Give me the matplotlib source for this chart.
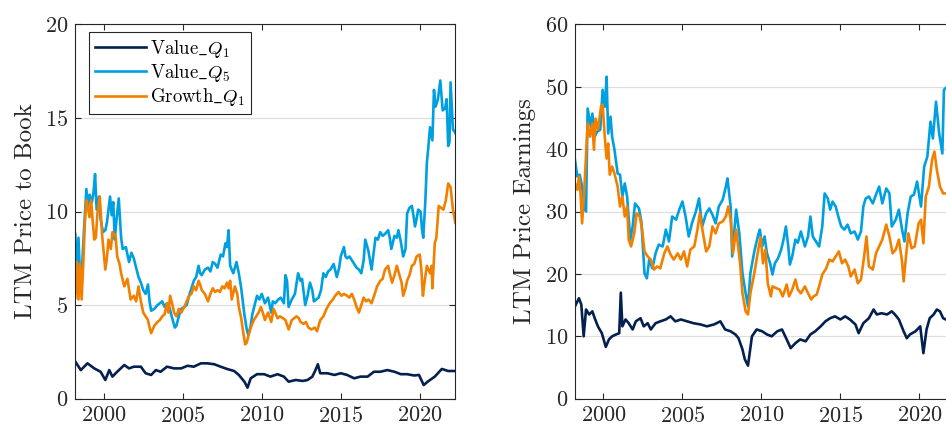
import matplotlib
matplotlib.use("Agg")
import matplotlib.pyplot as plt

plt.rcParams["font.family"] = "serif"
plt.rcParams["font.serif"] = ["cmr10"]
plt.rcParams["mathtext.fontset"] = "cm"
plt.rcParams["axes.formatter.use_mathtext"] = True

# (year, value) observations for each series
pb_value_q1 = [
    (1998.2, 1.98), (1998.55, 1.53), (1998.97, 1.89), (1999.4, 1.62), (1999.8, 1.44),
    (2000.1, 1.00), (2000.35, 1.53), (2000.55, 1.18), (2000.85, 1.44), (2001.3, 1.80),
    (2001.6, 1.62), (2001.9, 1.71), (2002.35, 1.71), (2002.65, 1.36), (2003.0, 1.27),
    (2003.3, 1.53), (2003.6, 1.44), (2004.0, 1.71), (2004.45, 1.62), (2004.9, 1.62),
    (2005.3, 1.76), (2005.7, 1.71), (2006.15, 1.89), (2006.55, 1.89), (2007.0, 1.84),
    (2007.4, 1.71), (2007.8, 1.59), (2008.25, 1.48), (2008.55, 1.27), (2008.9, 0.91),
    (2009.1, 0.59), (2009.3, 1.09), (2009.7, 1.31), (2010.15, 1.31), (2010.55, 1.18),
    (2011.0, 1.31), (2011.4, 1.18), (2011.7, 0.91), (2012.15, 1.00), (2012.6, 0.95),
    (2012.9, 1.00), (2013.2, 1.18), (2013.4, 1.53), (2013.55, 1.84), (2013.7, 1.36),
    (2014.15, 1.36), (2014.6, 1.27), (2015.0, 1.36), (2015.4, 1.27), (2015.85, 1.09),
    (2016.25, 1.18), (2016.7, 1.18), (2017.1, 1.44), (2017.5, 1.44), (2017.95, 1.53),
    (2018.4, 1.44), (2018.8, 1.31), (2019.2, 1.31), (2019.65, 1.24), (2019.95, 1.27),
    (2020.25, 0.73), (2020.5, 0.91), (2020.95, 1.18), (2021.4, 1.59), (2021.8, 1.48),
    (2022.25, 1.48),
]

pb_value_q5 = [
    (1998.2, 8.8), (1998.3, 6.5), (1998.4, 8.6), (1998.5, 6.5), (1998.6, 6.6), (1998.75, 9.0),
    (1998.9, 11.2), (1999.0, 10.2), (1999.1, 10.9), (1999.25, 10.5), (1999.35, 11.0),
    (1999.45, 12.0), (1999.55, 10.1), (1999.7, 10.8), (1999.8, 9.6), (1999.95, 8.9),
    (2000.1, 9.0), (2000.2, 9.4), (2000.4, 10.8), (2000.5, 9.8), (2000.6, 10.5), (2000.7, 8.5),
    (2000.8, 9.5), (2000.95, 10.7), (2001.1, 8.6), (2001.2, 8.0), (2001.4, 8.1), (2001.6, 7.3),
    (2001.75, 7.8), (2001.9, 7.5), (2002.05, 7.0), (2002.2, 6.5), (2002.35, 6.2), (2002.5, 5.8),
    (2002.65, 5.6), (2002.8, 6.1), (2002.9, 5.2), (2003.0, 4.7), (2003.2, 4.8), (2003.4, 5.0),
    (2003.55, 5.1), (2003.7, 5.2), (2003.85, 4.9), (2004.0, 5.1), (2004.15, 4.9), (2004.3, 4.4),
    (2004.5, 3.8), (2004.6, 3.9), (2004.75, 4.4), (2004.9, 4.8), (2005.1, 4.9), (2005.25, 5.0),
    (2005.4, 5.5), (2005.55, 5.9), (2005.7, 6.3), (2005.85, 6.5), (2006.0, 7.1), (2006.1, 6.7),
    (2006.2, 6.6), (2006.4, 6.9), (2006.6, 7.0), (2006.75, 6.8), (2006.9, 7.3), (2007.05, 7.2),
    (2007.2, 7.0), (2007.4, 7.7), (2007.55, 7.6), (2007.7, 8.3), (2007.8, 8.1), (2007.9, 9.0),
    (2008.0, 7.1), (2008.2, 6.7), (2008.4, 7.3), (2008.55, 6.7), (2008.7, 5.9), (2008.9, 4.5),
    (2009.05, 3.7), (2009.15, 3.4), (2009.3, 3.9), (2009.4, 4.5), (2009.55, 5.0), (2009.7, 5.5),
    (2009.85, 5.3), (2010.0, 5.6), (2010.2, 5.1), (2010.4, 5.4), (2010.6, 4.6), (2010.7, 5.2),
    (2010.85, 5.1), (2011.05, 5.3), (2011.2, 5.4), (2011.4, 5.1), (2011.5, 6.6), (2011.6, 6.3),
    (2011.7, 4.9), (2011.9, 5.3), (2012.1, 5.6), (2012.3, 6.7), (2012.45, 6.3), (2012.55, 6.4),
    (2012.75, 5.0), (2012.9, 5.5), (2013.05, 6.2), (2013.2, 5.8), (2013.3, 5.2), (2013.45, 5.3),
    (2013.6, 5.4), (2013.75, 5.8), (2013.9, 6.7), (2014.05, 6.5), (2014.2, 6.8), (2014.35, 6.9),
    (2014.55, 7.2), (2014.75, 6.5), (2014.9, 7.0), (2015.0, 7.6), (2015.2, 8.1), (2015.3, 7.6),
    (2015.4, 7.5), (2015.55, 7.6), (2015.7, 7.4), (2015.85, 7.2), (2016.0, 7.0), (2016.15, 6.9),
    (2016.3, 6.7), (2016.45, 7.4), (2016.55, 8.5), (2016.75, 7.9), (2016.95, 6.9), (2017.1, 7.9),
    (2017.2, 8.6), (2017.35, 8.5), (2017.5, 8.9), (2017.65, 8.7), (2017.8, 8.8), (2018.0, 9.0),
    (2018.1, 8.6), (2018.2, 8.0), (2018.4, 8.7), (2018.55, 8.6), (2018.65, 9.0), (2018.8, 8.4),
    (2018.95, 7.6), (2019.1, 8.0), (2019.2, 9.9), (2019.35, 10.2), (2019.5, 10.3), (2019.6, 9.8),
    (2019.7, 9.2), (2019.8, 9.6), (2019.9, 10.1), (2020.05, 10.0), (2020.15, 9.0), (2020.22, 8.6),
    (2020.35, 10.5), (2020.45, 12.6), (2020.55, 13.5), (2020.65, 14.5), (2020.8, 13.8),
    (2020.9, 16.5), (2021.0, 15.6), (2021.15, 16.0), (2021.3, 17.0), (2021.45, 15.4),
    (2021.6, 15.5), (2021.7, 16.0), (2021.8, 13.5), (2021.88, 13.7), (2021.95, 16.9),
    (2022.1, 14.4), (2022.25, 14.2),
]

pb_growth_q1 = [
    (1998.2, 5.4), (1998.3, 7.3), (1998.4, 5.3), (1998.5, 7.2), (1998.6, 5.3), (1998.7, 7.1),
    (1998.8, 9.3), (1998.9, 10.6), (1999.0, 10.2), (1999.1, 9.7), (1999.2, 10.6), (1999.3, 9.5),
    (1999.4, 8.5), (1999.5, 8.6), (1999.6, 9.9), (1999.75, 10.8), (1999.9, 8.7), (2000.0, 7.8),
    (2000.1, 6.9), (2000.2, 7.5), (2000.3, 8.5), (2000.45, 8.0), (2000.55, 8.9), (2000.75, 8.7),
    (2000.85, 7.6), (2001.0, 7.2), (2001.1, 6.7), (2001.3, 6.0), (2001.5, 6.4), (2001.7, 5.3),
    (2001.9, 5.5), (2002.05, 5.2), (2002.2, 6.0), (2002.35, 5.2), (2002.5, 4.6), (2002.65, 4.4),
    (2002.8, 4.2), (2002.9, 3.8), (2003.0, 3.5), (2003.2, 3.9), (2003.4, 4.1), (2003.55, 4.2),
    (2003.7, 4.4), (2003.85, 4.5), (2004.0, 5.1), (2004.1, 4.6), (2004.2, 5.5), (2004.35, 5.0),
    (2004.45, 4.6), (2004.6, 4.4), (2004.75, 4.8), (2004.9, 4.6), (2005.1, 4.9), (2005.25, 5.2),
    (2005.4, 5.5), (2005.55, 5.6), (2005.7, 6.0), (2005.85, 5.8), (2006.0, 6.3), (2006.1, 6.1),
    (2006.2, 5.8), (2006.4, 5.6), (2006.6, 5.2), (2006.75, 5.6), (2006.9, 5.9), (2007.05, 5.7),
    (2007.2, 5.8), (2007.35, 5.7), (2007.5, 6.0), (2007.65, 5.9), (2007.8, 6.2), (2007.9, 5.9),
    (2008.0, 6.3), (2008.1, 5.3), (2008.3, 6.0), (2008.45, 5.6), (2008.55, 4.9), (2008.7, 4.3),
    (2008.8, 3.7), (2008.95, 2.9), (2009.05, 3.0), (2009.2, 3.5), (2009.35, 3.9), (2009.5, 4.2),
    (2009.65, 4.4), (2009.8, 4.6), (2009.95, 4.9), (2010.1, 4.5), (2010.2, 4.2), (2010.4, 4.6),
    (2010.6, 4.1), (2010.75, 4.8), (2010.85, 4.6), (2011.0, 4.3), (2011.15, 4.4), (2011.35, 4.3),
    (2011.5, 4.2), (2011.7, 3.7), (2011.9, 4.2), (2012.05, 4.3), (2012.2, 4.4), (2012.35, 4.3),
    (2012.45, 4.1), (2012.65, 4.0), (2012.8, 4.1), (2012.95, 3.8), (2013.15, 3.7), (2013.35, 3.8),
    (2013.5, 3.6), (2013.7, 4.2), (2013.9, 4.4), (2014.1, 4.8), (2014.3, 5.1), (2014.5, 5.3),
    (2014.65, 5.5), (2014.85, 5.7), (2015.05, 5.5), (2015.2, 5.6), (2015.4, 5.5), (2015.55, 5.4),
    (2015.7, 5.6), (2015.85, 5.3), (2016.0, 4.9), (2016.15, 4.6), (2016.3, 5.0), (2016.45, 5.4),
    (2016.6, 5.2), (2016.75, 5.3), (2016.95, 5.1), (2017.15, 5.6), (2017.3, 6.0), (2017.5, 6.3),
    (2017.65, 6.4), (2017.8, 6.9), (2018.0, 7.1), (2018.1, 6.7), (2018.25, 6.2), (2018.4, 6.6),
    (2018.55, 7.1), (2018.75, 6.5), (2018.85, 6.2), (2018.95, 5.5), (2019.1, 5.9), (2019.2, 6.3),
    (2019.35, 6.6), (2019.5, 7.1), (2019.65, 7.2), (2019.8, 7.6), (2020.0, 7.7), (2020.1, 6.9),
    (2020.2, 5.5), (2020.3, 6.2), (2020.45, 7.1), (2020.55, 6.9), (2020.65, 6.7), (2020.75, 7.1),
    (2020.8, 5.9), (2020.95, 8.3), (2021.05, 8.6), (2021.2, 10.3), (2021.35, 10.2), (2021.5, 10.1),
    (2021.65, 10.6), (2021.8, 11.5), (2021.95, 11.3), (2022.1, 10.1), (2022.25, 9.4),
]

pe_value_q1 = [
    (1998.2, 14.8), (1998.45, 16.1), (1998.6, 15.1), (1998.75, 10.0), (1998.9, 14.3),
    (1999.1, 13.5), (1999.3, 14.0), (1999.45, 12.9), (1999.65, 11.6), (1999.9, 10.5),
    (2000.15, 8.3), (2000.35, 9.5), (2000.55, 10.0), (2000.8, 10.3), (2001.0, 10.5),
    (2001.1, 17.0), (2001.2, 11.6), (2001.4, 12.7), (2001.6, 12.1), (2001.85, 11.1),
    (2002.05, 12.4), (2002.35, 12.9), (2002.55, 11.6), (2002.8, 12.1), (2003.0, 11.1),
    (2003.3, 12.1), (2003.6, 12.4), (2003.95, 12.7), (2004.25, 13.2), (2004.55, 12.4),
    (2004.9, 12.7), (2005.3, 12.4), (2005.7, 12.1), (2006.15, 11.9), (2006.55, 11.6),
    (2007.0, 11.9), (2007.4, 12.4), (2007.7, 11.1), (2008.05, 10.8), (2008.35, 10.3),
    (2008.55, 9.7), (2008.8, 7.9), (2008.95, 6.3), (2009.15, 5.3), (2009.4, 10.0),
    (2009.7, 11.1), (2010.05, 10.8), (2010.35, 10.3), (2010.65, 10.0), (2011.0, 10.8),
    (2011.3, 11.1), (2011.6, 9.5), (2011.85, 8.1), (2012.15, 8.9), (2012.45, 9.5),
    (2012.8, 9.2), (2013.1, 10.3), (2013.4, 10.8), (2013.75, 11.6), (2014.05, 12.4),
    (2014.35, 12.9), (2014.65, 13.2), (2015.0, 12.7), (2015.3, 13.2), (2015.6, 12.7),
    (2015.95, 11.9), (2016.15, 10.5), (2016.45, 12.1), (2016.8, 12.9), (2017.1, 14.3),
    (2017.3, 13.5), (2017.6, 13.7), (2017.95, 13.5), (2018.25, 14.0), (2018.45, 13.5),
    (2018.7, 12.7), (2019.0, 10.8), (2019.2, 9.7), (2019.4, 10.3), (2019.75, 10.8),
    (2020.05, 11.6), (2020.25, 7.3), (2020.45, 11.1), (2020.65, 12.9), (2020.9, 13.5),
    (2021.1, 14.3), (2021.3, 14.0), (2021.5, 12.9), (2021.67, 12.7),
]

pe_value_q5 = [
    (1998.2, 38.3), (1998.35, 35.6), (1998.5, 35.9), (1998.65, 34.0), (1998.8, 30.8),
    (1998.9, 30.0), (1999.0, 46.5), (1999.2, 43.6), (1999.3, 45.7), (1999.45, 42.0),
    (1999.6, 42.8), (1999.8, 43.1), (1999.95, 49.5), (2000.1, 46.8), (2000.2, 51.6),
    (2000.3, 42.5), (2000.45, 45.2), (2000.55, 42.0), (2000.7, 39.9), (2000.9, 36.1),
    (2001.05, 35.9), (2001.2, 32.4), (2001.35, 34.5), (2001.5, 32.4), (2001.7, 25.5),
    (2001.85, 27.6), (2002.0, 31.3), (2002.25, 30.5), (2002.4, 28.4), (2002.6, 20.1),
    (2002.75, 19.3), (2002.9, 22.3), (2003.1, 20.9), (2003.3, 23.3), (2003.5, 24.7),
    (2003.75, 24.4), (2003.95, 27.1), (2004.15, 25.2), (2004.35, 29.2), (2004.6, 28.7),
    (2004.8, 30.3), (2005.0, 31.6), (2005.2, 29.2), (2005.4, 26.0), (2005.6, 28.1),
    (2005.85, 30.0), (2006.05, 32.1), (2006.25, 27.6), (2006.5, 29.7), (2006.7, 30.5),
    (2006.9, 29.5), (2007.1, 28.1), (2007.3, 30.8), (2007.55, 31.9), (2007.75, 34.0),
    (2007.85, 35.3), (2008.05, 30.8), (2008.15, 22.8), (2008.4, 30.3), (2008.6, 26.5),
    (2008.8, 20.1), (2009.0, 16.9), (2009.15, 14.8), (2009.3, 20.1), (2009.55, 23.6),
    (2009.8, 26.3), (2009.9, 27.1), (2010.05, 24.4), (2010.2, 26.0), (2010.35, 23.3),
    (2010.55, 21.7), (2010.7, 19.9), (2010.85, 21.7), (2011.05, 22.5), (2011.25, 23.9),
    (2011.4, 25.5), (2011.55, 27.6), (2011.7, 24.4), (2011.8, 21.5), (2011.95, 22.8),
    (2012.15, 25.5), (2012.3, 25.0), (2012.5, 26.8), (2012.75, 24.4), (2012.95, 26.0),
    (2013.1, 29.2), (2013.25, 26.0), (2013.45, 25.2), (2013.65, 24.4), (2013.85, 27.6),
    (2014.0, 32.9), (2014.2, 32.1), (2014.35, 30.3), (2014.5, 31.6), (2014.7, 30.8),
    (2014.9, 28.9), (2015.05, 27.6), (2015.25, 27.1), (2015.45, 27.9), (2015.65, 26.5),
    (2015.9, 26.8), (2016.1, 25.5), (2016.3, 26.8), (2016.45, 30.8), (2016.6, 32.1),
    (2016.8, 32.4), (2017.05, 31.3), (2017.25, 32.7), (2017.45, 34.0), (2017.65, 31.3),
    (2017.9, 33.7), (2018.1, 32.9), (2018.25, 27.6), (2018.5, 28.7), (2018.7, 30.3),
    (2018.9, 27.1), (2019.05, 25.2), (2019.25, 29.7), (2019.45, 32.4), (2019.65, 32.7),
    (2019.85, 34.8), (2020.1, 30.8), (2020.3, 37.2), (2020.5, 38.8), (2020.7, 44.4),
    (2020.85, 41.7), (2021.05, 47.6), (2021.25, 42.5), (2021.45, 39.3), (2021.55, 49.5),
    (2021.67, 49.8),
]

pe_growth_q1 = [
    (1998.2, 34.5), (1998.35, 33.5), (1998.45, 35.6), (1998.55, 32.9), (1998.65, 28.1),
    (1998.8, 34.0), (1999.0, 44.1), (1999.15, 42.0), (1999.3, 44.1), (1999.4, 39.9),
    (1999.5, 44.9), (1999.65, 43.1), (1999.85, 46.8), (1999.95, 47.1), (2000.1, 41.5),
    (2000.2, 38.5), (2000.3, 40.9), (2000.4, 35.9), (2000.55, 37.2), (2000.7, 36.1),
    (2000.9, 34.0), (2001.05, 30.8), (2001.2, 32.4), (2001.35, 29.2), (2001.5, 30.8),
    (2001.6, 25.5), (2001.75, 24.4), (2001.95, 26.5), (2002.1, 29.7), (2002.3, 29.2),
    (2002.45, 27.1), (2002.6, 23.6), (2002.8, 22.8), (2003.0, 22.3), (2003.2, 20.7),
    (2003.4, 21.2), (2003.6, 20.9), (2003.85, 23.3), (2004.05, 24.4), (2004.25, 23.1),
    (2004.45, 22.3), (2004.7, 23.3), (2004.9, 22.3), (2005.1, 23.6), (2005.3, 21.2),
    (2005.5, 23.9), (2005.75, 24.4), (2005.95, 27.1), (2006.1, 29.7), (2006.25, 27.3),
    (2006.5, 23.6), (2006.7, 24.4), (2006.9, 27.6), (2007.1, 26.5), (2007.3, 28.1),
    (2007.55, 28.4), (2007.75, 29.2), (2007.9, 30.8), (2008.05, 28.7), (2008.2, 23.3),
    (2008.4, 27.1), (2008.65, 21.7), (2008.8, 16.9), (2009.0, 14.0), (2009.15, 13.5),
    (2009.3, 16.9), (2009.55, 20.1), (2009.8, 23.9), (2009.95, 25.9), (2010.1, 21.7),
    (2010.25, 23.9), (2010.4, 18.5), (2010.6, 16.4), (2010.7, 18.0), (2010.95, 17.7),
    (2011.15, 17.5), (2011.35, 16.4), (2011.6, 18.3), (2011.75, 16.4), (2011.95, 17.5),
    (2012.15, 19.1), (2012.3, 17.5), (2012.5, 16.9), (2012.75, 18.0), (2012.95, 16.9),
    (2013.15, 15.9), (2013.3, 16.4), (2013.5, 16.7), (2013.65, 18.0), (2013.85, 19.9),
    (2014.1, 20.9), (2014.3, 22.3), (2014.5, 22.0), (2014.7, 22.8), (2014.9, 23.6),
    (2015.1, 21.7), (2015.3, 22.3), (2015.5, 21.2), (2015.65, 19.6), (2015.9, 20.7),
    (2016.1, 18.5), (2016.3, 19.1), (2016.5, 22.8), (2016.65, 26.0), (2016.8, 21.2),
    (2017.05, 20.7), (2017.25, 23.3), (2017.45, 24.4), (2017.65, 25.5), (2017.9, 27.9),
    (2018.1, 26.0), (2018.3, 23.3), (2018.5, 23.9), (2018.7, 25.5), (2018.9, 22.0),
    (2019.0, 18.8), (2019.15, 22.8), (2019.3, 26.5), (2019.5, 24.1), (2019.7, 24.4),
    (2019.95, 28.1), (2020.1, 28.7), (2020.25, 24.9), (2020.4, 32.4), (2020.6, 34.0),
    (2020.8, 38.3), (2020.95, 39.6), (2021.1, 36.7), (2021.3, 34.0), (2021.5, 32.9),
    (2021.67, 32.9),
]

series_labels = [r"Value$\_Q_1$", r"Value$\_Q_5$", r"Growth$\_Q_1$"]
series_colors = ["#03204f", "#00a0e0", "#f28000"]
year_ticks = [2000, 2005, 2010, 2015, 2020]
x_range = (1998.2, 2022.25)
text_color = "#262626"

fig = plt.figure(figsize=(9.46, 4.29), dpi=100)
ax_pb = fig.add_axes([0.0796, 0.0706, 0.4017, 0.8727])
ax_pe = fig.add_axes([0.6078, 0.0706, 0.4017, 0.8727])


def draw_panel(ax, groups, ylabel, yticks):
    for data, label, color in zip(groups, series_labels, series_colors):
        xs = [p[0] for p in data]
        ys = [p[1] for p in data]
        ax.plot(xs, ys, color=color, lw=1.9, label=label, solid_joinstyle="round")
    ax.set_xlim(*x_range)
    ax.set_ylim(yticks[0], yticks[-1])
    ax.set_xticks(year_ticks)
    ax.set_yticks(yticks)
    ax.yaxis.grid(True, color="#dedede", lw=0.9)
    ax.set_axisbelow(True)
    ax.tick_params(direction="in", top=True, right=True, length=4, width=0.8,
                   colors=text_color, labelsize=16, pad=5)
    for s in ax.spines.values():
        s.set_color(text_color)
        s.set_linewidth(0.8)
    ax.set_ylabel(ylabel, fontsize=18, color=text_color, labelpad=6)


draw_panel(ax_pb, [pb_value_q1, pb_value_q5, pb_growth_q1], "LTM Price to Book",
           [0, 5, 10, 15, 20])
draw_panel(ax_pe, [pe_value_q1, pe_value_q5, pe_growth_q1], "LTM Price Earnings",
           [0, 10, 20, 30, 40, 50, 60])

leg = ax_pb.legend(loc="upper left", bbox_to_anchor=(0.037, 0.979), borderaxespad=0,
                   fontsize=13.5, fancybox=False, framealpha=1, edgecolor=text_color,
                   handlelength=2.7, handletextpad=0.25, labelspacing=0.12,
                   borderpad=0.3)
leg.get_frame().set_linewidth(0.8)

fig.savefig("out.png", dpi=100)
